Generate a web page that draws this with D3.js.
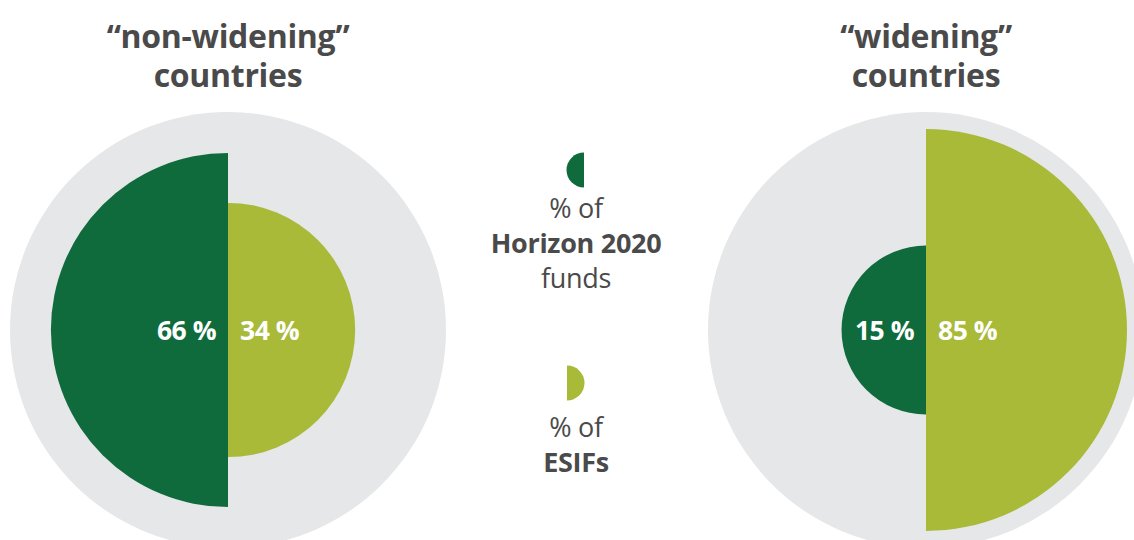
<!DOCTYPE html>
<html><head><meta charset="utf-8">
<script src="https://cdn.jsdelivr.net/npm/d3@7"></script>
<style>body{margin:0;background:#fff}svg{display:block}</style>
</head><body>
<svg id="c" width="1134" height="540"></svg>
<script>
const groups = ["non-widening", "widening"];
const titles = [["“non-widening”", "countries"], ["“widening”", "countries"]];
const horizon = [66, 15];
const esifs = [34, 85];
const total = [100, 100];

const svg = d3.select("#c");
const x = d3.scalePoint().domain(groups).range([228, 926]);
const r = d3.scaleSqrt().domain([0, 100]).range([0, 218]);
const cy = 330;
const dark = "#0f6b3b", light = "#a9b938", grey = "#e6e7e8", txt = "#4a4a4a";
const font = "'Open Sans', 'Noto Sans', sans-serif";

const half = (rad, side) => d3.arc()({innerRadius: 0, outerRadius: rad,
  startAngle: side === "left" ? Math.PI : 0, endAngle: side === "left" ? 2 * Math.PI : Math.PI});

groups.forEach((g, i) => {
  const gg = svg.append("g").attr("transform", `translate(${x(g)},${cy})`);
  gg.append("circle").attr("r", r(total[i])).attr("fill", grey);
  gg.append("path").attr("d", half(r(horizon[i]), "left")).attr("fill", dark);
  gg.append("path").attr("d", half(r(esifs[i]), "right")).attr("fill", light);
  gg.append("text").attr("x", -12).attr("y", 10).attr("text-anchor", "end")
    .attr("font-family", font).attr("font-weight", 700).attr("font-size", 26.5)
    .attr("letter-spacing", -0.5).attr("fill", "#fff").text(horizon[i] + " %");
  gg.append("text").attr("x", 12).attr("y", 10).attr("text-anchor", "start")
    .attr("font-family", font).attr("font-weight", 700).attr("font-size", 26.5)
    .attr("letter-spacing", -0.5).attr("fill", "#fff").text(esifs[i] + " %");
  titles[i].forEach((t, j) => {
    svg.append("text").attr("x", x(g)).attr("y", 48 + j * 39).attr("text-anchor", "middle")
      .attr("font-family", font).attr("font-weight", 700).attr("font-size", 32)
      .attr("letter-spacing", -0.3).attr("fill", txt).text(t);
  });
});

// legend
const lx = 584;
svg.append("path").attr("transform", `translate(${lx},170)`).attr("d", half(17.5, "left")).attr("fill", dark);
svg.append("path").attr("transform", `translate(${lx - 17},383)`).attr("d", half(17.5, "right")).attr("fill", light);
const legText = [
  {t: "% of", y: 218, w: 400}, {t: "Horizon 2020", y: 253, w: 700}, {t: "funds", y: 288, w: 400},
  {t: "% of", y: 437, w: 400}, {t: "ESIFs", y: 472, w: 700}
];
legText.forEach(d => {
  svg.append("text").attr("x", 576).attr("y", d.y).attr("text-anchor", "middle")
    .attr("font-family", font).attr("font-weight", d.w).attr("font-size", 27)
    .attr("letter-spacing", -0.3).attr("fill", txt).text(d.t);
});
</script>
</body></html>
